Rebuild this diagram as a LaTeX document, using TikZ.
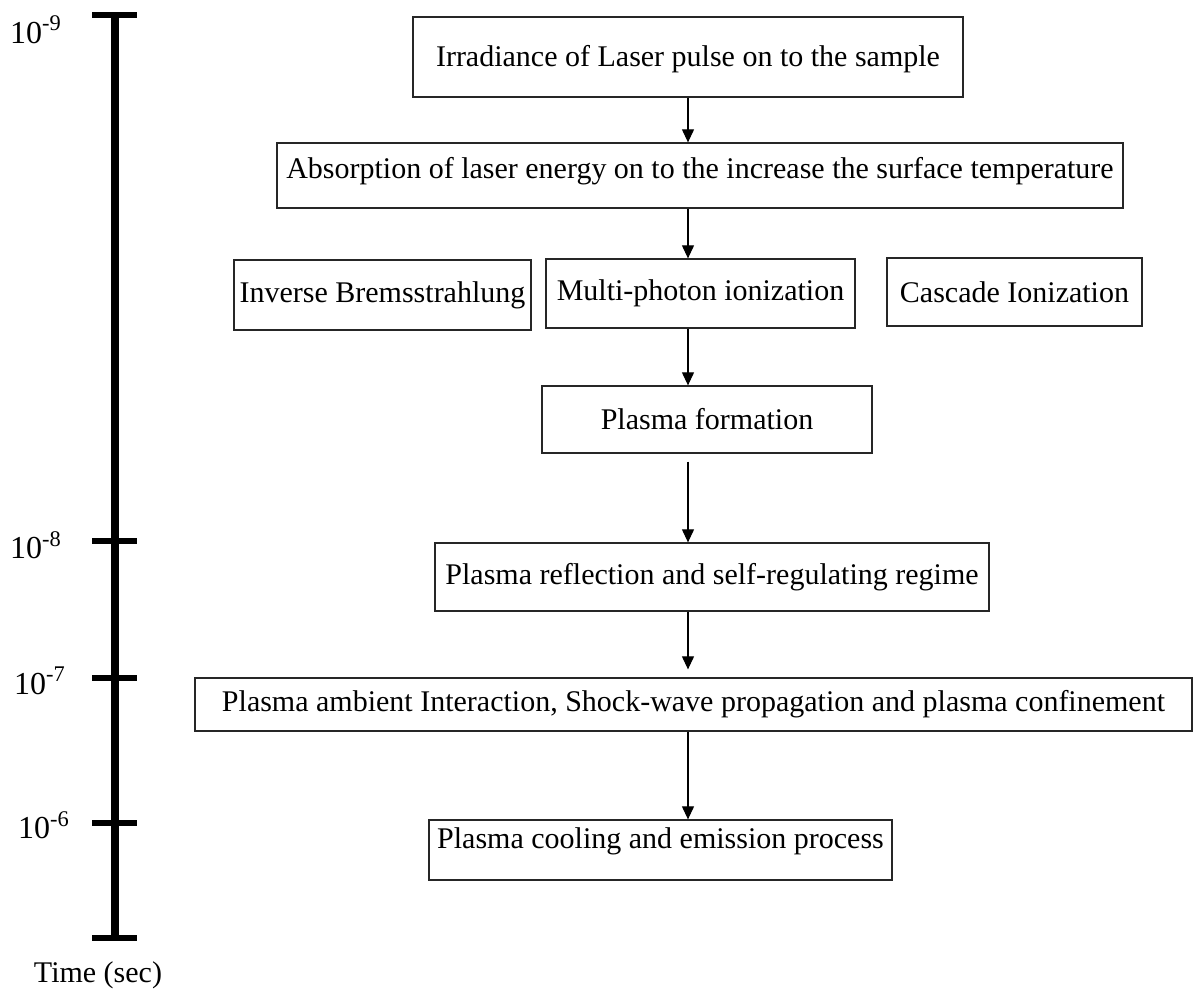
\documentclass[tikz,border=0pt]{standalone}
\usepackage{fontspec}
\setmainfont{Liberation Serif}
\usepackage{tikz}
\usetikzlibrary{positioning, arrows.meta, calc}

\begin{document}
\begin{tikzpicture}[
  x=0.5pt, y=-0.5pt,
  font=\fontsize{15}{18}\selectfont,
  box/.style={draw=black!85, line width=0.65pt, inner sep=0pt, align=center},
  flow/.style={-{Triangle[length=6.5pt, width=6pt]}, line width=0.55pt},
  axisline/.style={line width=3.6pt},
  tickmark/.style={line width=2.6pt},
  lbl/.style={inner sep=0pt},
]
  \useasboundingbox (0,0) rectangle (1204,997);

  % --- time axis ---
  \coordinate (t9) at (115,15);
  \coordinate (t8) at (115,541);
  \coordinate (t7) at (115,678);
  \coordinate (t6) at (115,823);
  \coordinate (tend) at (115,938);
  \draw[axisline] (t9) -- (tend);
  \foreach \t in {t9, t8, t7, t6, tend}
    \draw[tickmark] ($(\t)+(-23,0)$) -- ($(\t)+(22,0)$);

  \node[lbl, font=\fontsize{16}{19}\selectfont] (l9) at (36,30) {10\textsuperscript{-9}};
  \node[lbl, font=\fontsize{16}{19}\selectfont] (l8) at (36,545) {10\textsuperscript{-8}};
  \node[lbl, font=\fontsize{16}{19}\selectfont] (l7) at (40,681) {10\textsuperscript{-7}};
  \node[lbl, font=\fontsize{16}{19}\selectfont] (l6) at (44,825) {10\textsuperscript{-6}};
  \node[lbl] (tlabel) at (98,975) {Time (sec)};

  % --- process boxes ---
  \node[box, minimum width=275pt, minimum height=40pt, text depth=1pt] (laser) at (688,57)
    {Irradiance of Laser pulse on to the sample};
  \node[box, minimum width=423pt, minimum height=32.5pt, text depth=8pt] (absorb) at (700,175.5)
    {Absorption of laser energy on to the increase the surface temperature};
  \node[box, minimum width=148.5pt, minimum height=35pt] (brems) at (382.5,295)
    {Inverse Bremsstrahlung};
  \node[box, minimum width=154.5pt, minimum height=34.5pt] (mpi) at (700.5,293.5)
    {Multi-photon ionization};
  \node[box, minimum width=127.5pt, minimum height=34pt] (cascade) at (1014.5,292)
    {Cascade Ionization};
  \node[box, minimum width=165pt, minimum height=33.5pt] (formation) at (707,419.5)
    {Plasma formation};
  \node[box, minimum width=277pt, minimum height=34pt] (reflect) at (712,577)
    {Plasma reflection and self-regulating regime};
  \node[box, minimum width=498.5pt, minimum height=26.5pt] (ambient) at (693.5,704.5)
    {Plasma ambient Interaction, Shock-wave propagation and plasma confinement};
  \node[box, minimum width=231.5pt, minimum height=30pt, text depth=12pt] (cooling) at (660.5,850)
    {Plasma cooling and emission process};

  % --- arrows down the chain ---
  \coordinate (spine) at (688,0);
  \draw[flow] (laser.south -| spine) -- (absorb.north -| spine);
  \draw[flow] (absorb.south -| spine) -- (mpi.north -| spine);
  \draw[flow] (mpi.south -| spine) -- (formation.north -| spine);
  \draw[flow, shorten <=4pt] (formation.south -| spine) -- (reflect.north -| spine);
  \draw[flow, shorten >=4pt] (reflect.south -| spine) -- (ambient.north -| spine);
  \draw[flow] (ambient.south -| spine) -- (cooling.north -| spine);
\end{tikzpicture}
\end{document}
